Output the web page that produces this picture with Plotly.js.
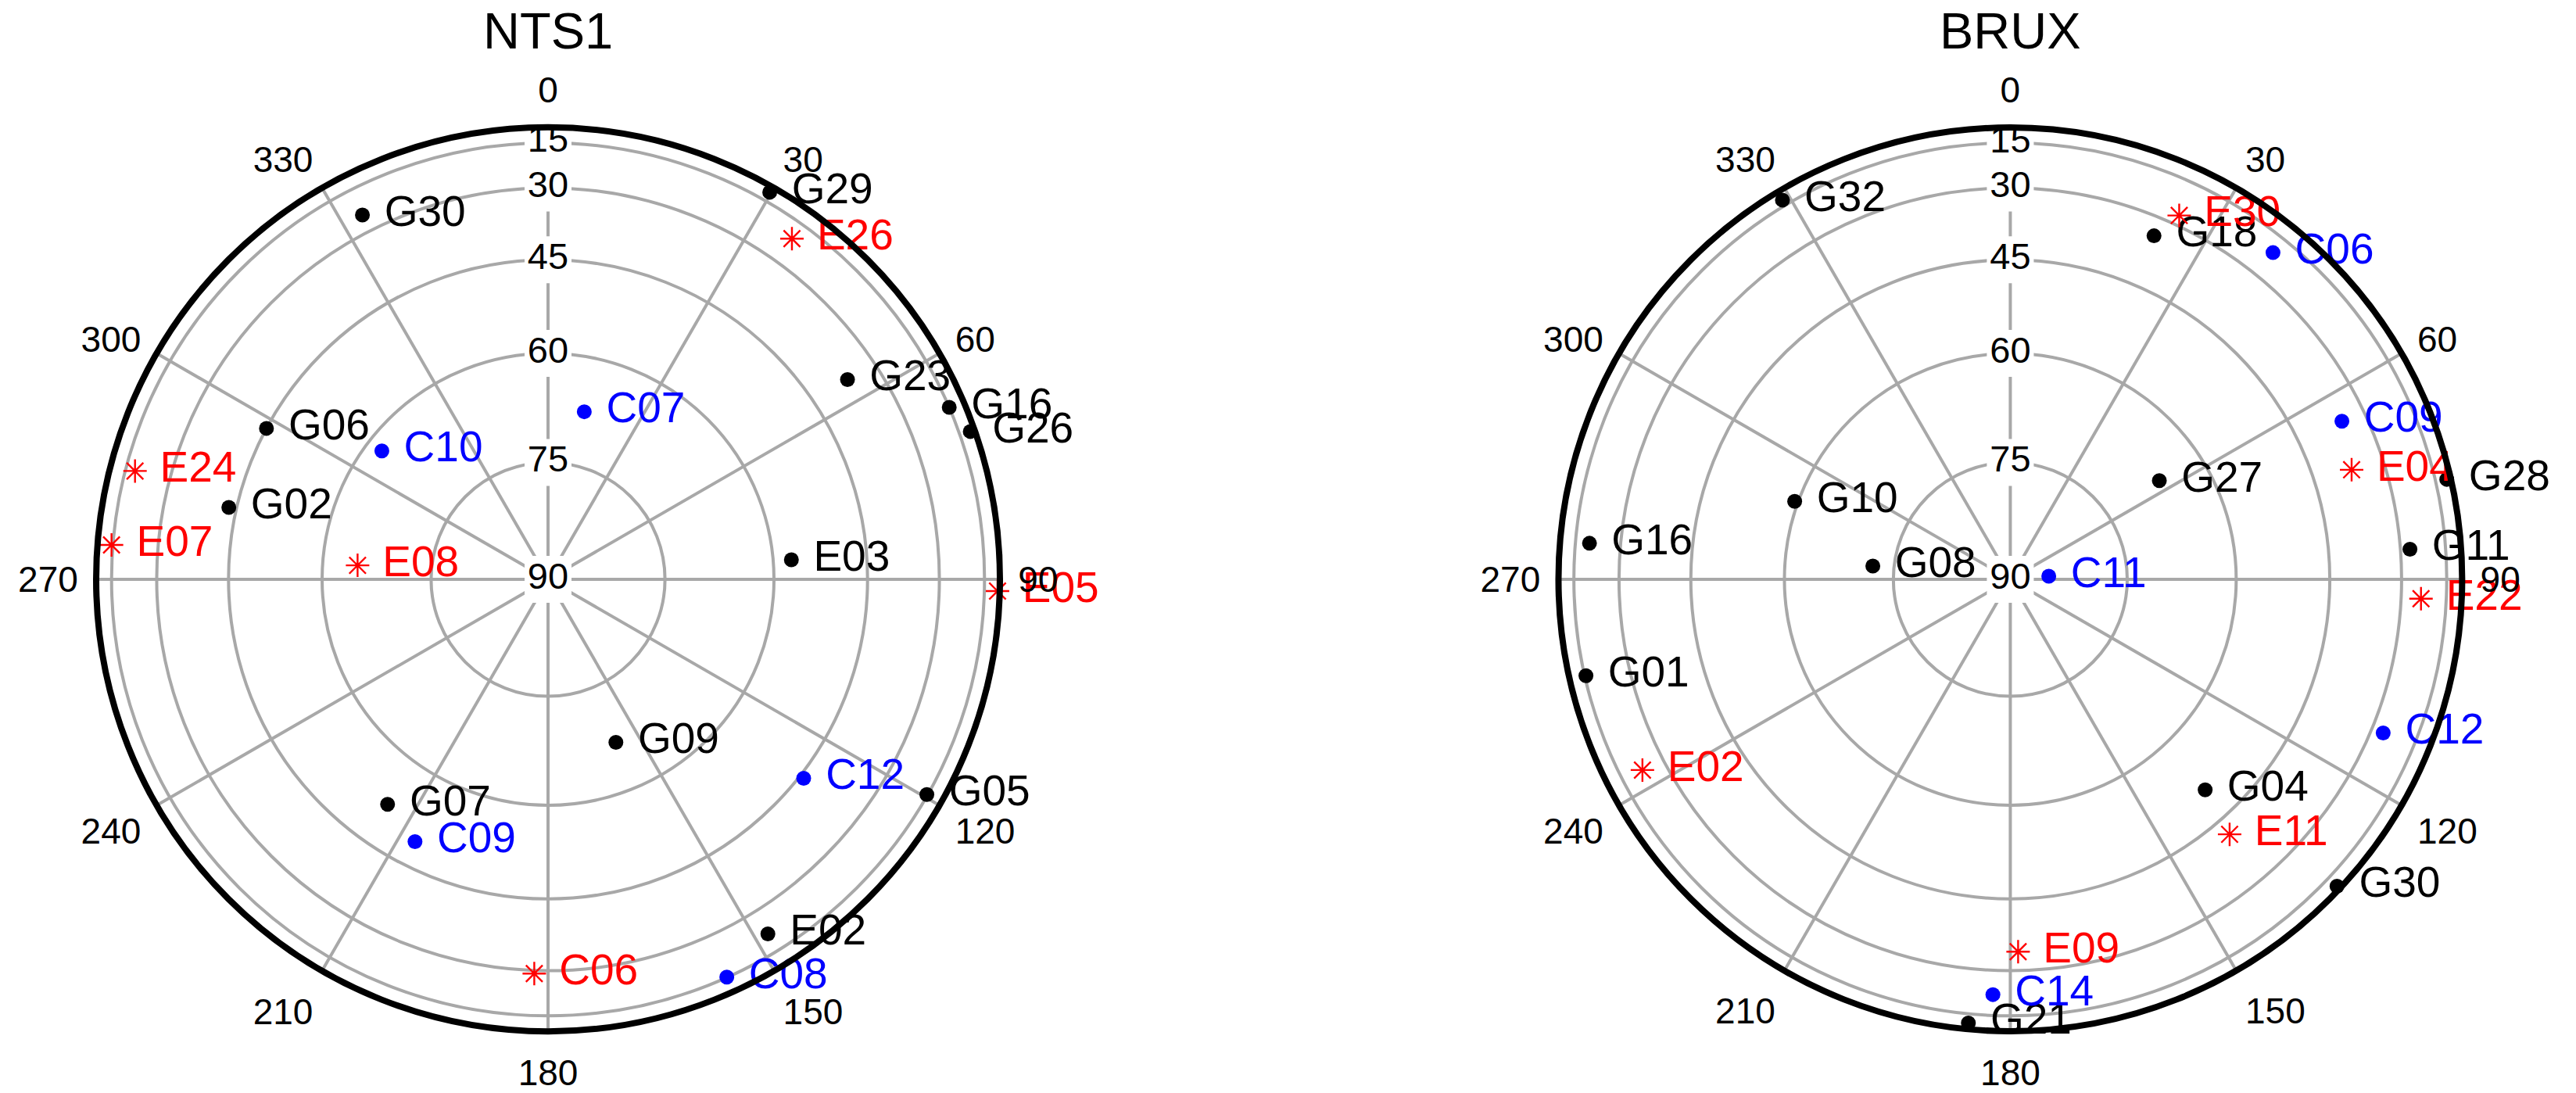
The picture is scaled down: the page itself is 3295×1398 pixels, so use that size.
<!DOCTYPE html>
<html>
<head>
<meta charset="utf-8">
<script src="https://cdn.plot.ly/plotly-3.0.1.min.js"></script>
<style>html, body { margin: 0; padding: 0; background: #fff; }</style>
</head>
<body>
<div id="skyplot" style="width:3295px;height:1398px"></div>
<script>
// azimuth / elevation (deg) read from the two skyplots
const azTicks = [0, 30, 60, 90, 120, 150, 180, 210, 240, 270, 300, 330];
const elTicks = [15, 30, 45, 60, 75, 90];

const ntsBlackPrn = ['G30', 'G29', 'G23', 'G16', 'G26', 'G06', 'G02', 'E03', 'G09', 'G07', 'G05', 'E02'];
const ntsBlackAz = [333.0, 29.8, 56.3, 66.8, 70.7, 298.2, 282.7, 85.4, 157.4, 215.5, 119.6, 148.2];
const ntsBlackEl = [25.2, 9.2, 37.2, 15.0, 8.1, 45.0, 43.6, 57.3, 67.0, 52.3, 15.4, 22.6];
const ntsRedPrn = ['E26', 'E24', 'E07', 'E08', 'E05', 'C06'];
const ntsRedAz = [35.6, 284.7, 274.5, 274.2, 91.5, 182.0];
const ntsRedEl = [22.0, 19.1, 14.3, 65.0, 5.7, 29.2];
const ntsBluePrn = ['C07', 'C10', 'C12', 'C09', 'C08'];
const ntsBlueAz = [12.2, 307.7, 127.9, 206.9, 155.8];
const ntsBlueEl = [67.7, 62.3, 44.2, 49.4, 15.2];

const bruxBlackPrn = ['G32', 'G18', 'G28', 'G27', 'G10', 'G16', 'G11', 'G08', 'G01', 'G04', 'G30', 'G21'];
const bruxBlackAz = [329.0, 22.7, 77.1, 56.5, 289.9, 274.9, 85.7, 275.5, 257.2, 137.2, 133.2, 185.4];
const bruxBlackEl = [11.7, 34.5, 7.7, 66.7, 59.5, 20.8, 27.5, 72.2, 15.6, 50.6, 7.3, 9.5];
const bruxRedPrn = ['E30', 'E04', 'E22', 'E02', 'E11', 'E09'];
const bruxRedAz = [24.9, 72.2, 92.7, 242.6, 139.3, 178.8];
const bruxRedEl = [27.4, 37.5, 24.5, 23.5, 41.9, 34.5];
const bruxBluePrn = ['C06', 'C09', 'C11', 'C12', 'C14'];
const bruxBlueAz = [38.8, 64.5, 85.3, 112.4, 182.4];
const bruxBlueEl = [21.9, 35.6, 85.1, 26.8, 23.1];

const FONT = 'Liberation Sans, Arial, sans-serif';

// projection used by the skyplot: radius = cos(elevation)
function toR(el) {
  return Math.cos(el * Math.PI / 180);
}

// elevation labels sit on the 0 deg spoke with a white box behind them
function elevationLabels(subplot) {
  return {
    type: 'scatterpolar', subplot: subplot,
    mode: 'markers+text',
    r: elTicks.map(toR), theta: elTicks.map(() => 0),
    text: elTicks.map(String),
    textposition: 'middle center',
    textfont: { family: FONT, size: 47, color: '#000' },
    marker: { symbol: 'square', size: 60, color: '#fff' },
    hoverinfo: 'skip', showlegend: false
  };
}

function sats(subplot, prn, az, el, color, symbol) {
  let isStar = symbol === 'asterisk-open';
  return {
    type: 'scatterpolar', subplot: subplot,
    mode: 'markers+text',
    r: el.map(toR), theta: az,
    text: prn,
    texttemplate: '\u00a0%{text}',
    textposition: 'middle right',
    textfont: { family: FONT, size: 55, color: color },
    marker: isStar
      ? { symbol: symbol, size: 25, color: color, line: { color: color, width: 2.4 } }
      : { symbol: symbol, size: 19, color: color },
    cliponaxis: false,
    hoverinfo: 'skip', showlegend: false
  };
}

function polarAxes(domainX) {
  return {
    domain: { x: domainX, y: [0.0565, 0.8834] },
    bgcolor: '#fff',
    radialaxis: {
      range: [0, 1],
      tickvals: elTicks.slice(0, 5).map(toR),
      showticklabels: false, ticks: '', showline: false,
      gridcolor: '#a8a8a8', gridwidth: 4
    },
    angularaxis: {
      direction: 'clockwise', rotation: 90,
      tickvals: azTicks, ticktext: azTicks.map(String),
      ticks: 'outside', ticklen: 10, tickcolor: 'rgba(0,0,0,0)',
      tickfont: { family: FONT, size: 46, color: '#000' },
      showline: true, linecolor: '#000', linewidth: 8,
      gridcolor: '#a8a8a8', gridwidth: 4
    }
  };
}

let data = [
  elevationLabels('polar'),
  sats('polar', ntsBlackPrn, ntsBlackAz, ntsBlackEl, '#000000', 'circle'),
  sats('polar', ntsRedPrn, ntsRedAz, ntsRedEl, '#ff0000', 'asterisk-open'),
  sats('polar', ntsBluePrn, ntsBlueAz, ntsBlueEl, '#0000ff', 'circle'),
  elevationLabels('polar2'),
  sats('polar2', bruxBlackPrn, bruxBlackAz, bruxBlackEl, '#000000', 'circle'),
  sats('polar2', bruxRedPrn, bruxRedAz, bruxRedEl, '#ff0000', 'asterisk-open'),
  sats('polar2', bruxBluePrn, bruxBlueAz, bruxBlueEl, '#0000ff', 'circle')
];

let layout = {
  width: 3295, height: 1398,
  margin: { l: 0, r: 0, t: 0, b: 0 },
  paper_bgcolor: '#fff',
  font: { family: FONT, color: '#000' },
  polar: polarAxes([0.0373, 0.3882]),
  polar2: polarAxes([0.6050, 0.9558]),
  annotations: [
    { text: 'NTS1', x: 0.2128, y: 0.972, xref: 'paper', yref: 'paper',
      xanchor: 'center', yanchor: 'middle', showarrow: false,
      font: { family: FONT, size: 65, color: '#000' } },
    { text: 'BRUX', x: 0.7804, y: 0.972, xref: 'paper', yref: 'paper',
      xanchor: 'center', yanchor: 'middle', showarrow: false,
      font: { family: FONT, size: 65, color: '#000' } }
  ]
};

Plotly.newPlot('skyplot', data, layout, { staticPlot: true });
</script>
</body>
</html>
